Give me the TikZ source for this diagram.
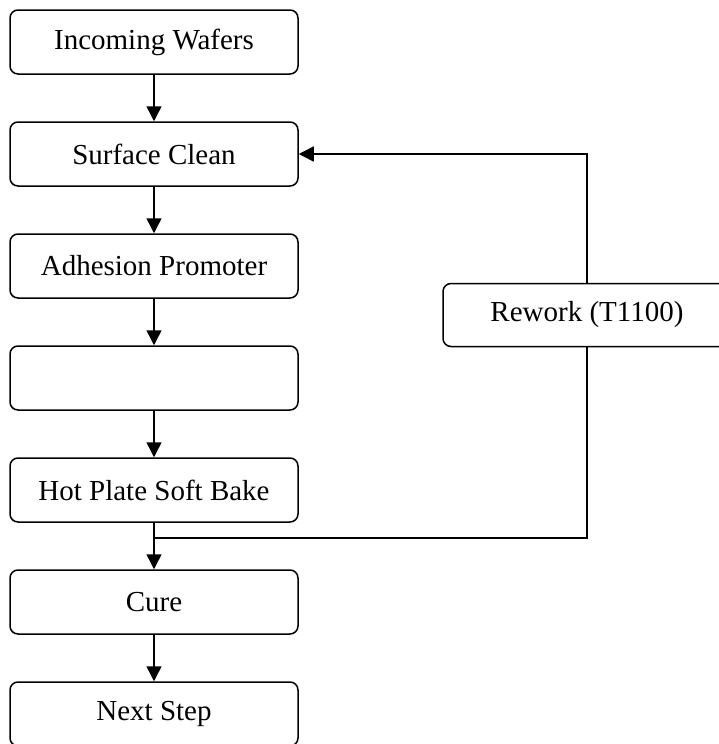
\documentclass[tikz,border=0pt]{standalone}
\usepackage{fontspec}
\setmainfont{Liberation Serif}
\usetikzlibrary{arrows.meta}
\begin{document}
\begin{tikzpicture}[x=1pt,y=-1pt,
  stepbox/.style={draw, line width=1.5pt, rounded corners=8pt, minimum width=288pt, minimum height=64pt, inner sep=0pt, font=\fontsize{29}{34}\selectfont},
  conn/.style={line width=1.5pt},
  arr/.style={conn, -{Triangle[length=15pt,width=15pt]}}]
\useasboundingbox (0,0) rectangle (719,744);
\node[stepbox] (a) at (154,42) {Incoming Wafers};
\node[stepbox] (b) at (154,154) {Surface Clean};
\node[stepbox] (c) at (154,266) {Adhesion Promoter};
\node[stepbox] (d) at (154,378) {};
\node[stepbox] (e) at (154,490) {Hot Plate Soft Bake};
\node[stepbox] (f) at (154,602) {Cure};
\node[stepbox] (g) at (154,714) {Next Step};
\node[stepbox, minimum height=63pt] (r) at (587,315) {Rework (T1100)};
\coordinate (m) at (154,538);
\draw[arr] (a) -- (b);
\draw[arr] (b) -- (c);
\draw[arr] (c) -- (d);
\draw[arr] (d) -- (e);
\draw[arr] (e) -- (f);
\draw[arr] (f) -- (g);
\draw[conn] (r.south) |- (m);
\draw[arr] (r.north) |- (b.east);
\end{tikzpicture}
\end{document}
